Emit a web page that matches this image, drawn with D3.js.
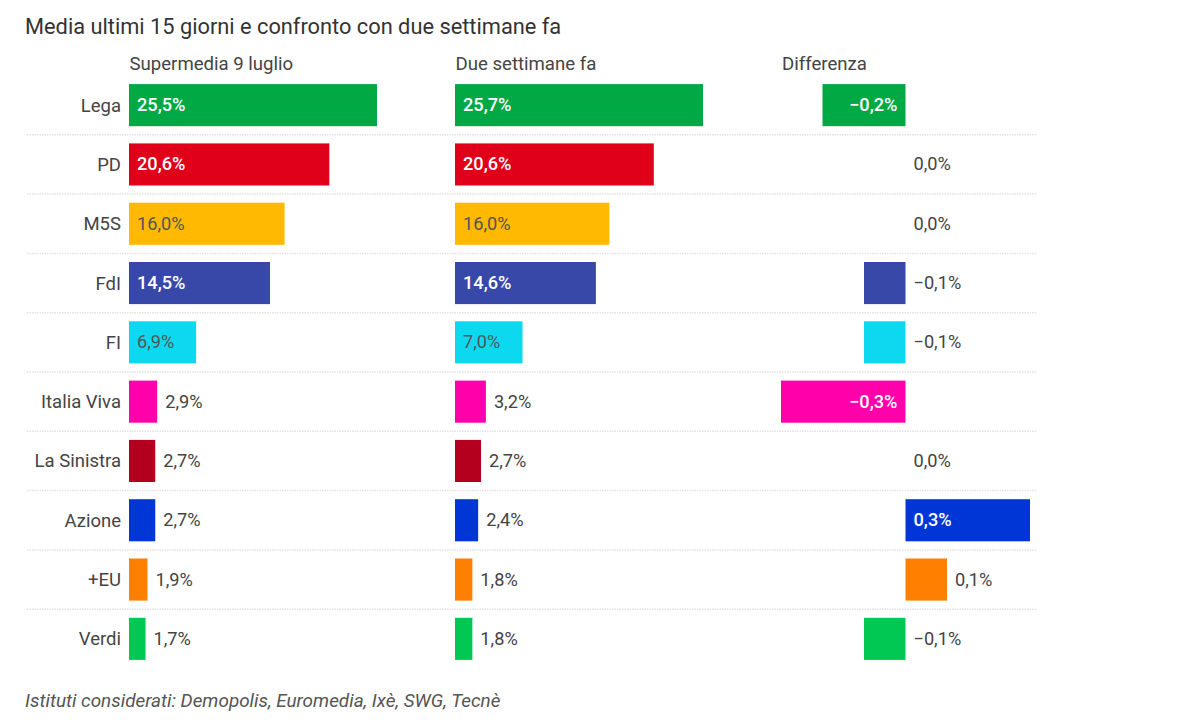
<!DOCTYPE html>
<html>
<head>
<meta charset="utf-8">
<script src="https://d3js.org/d3.v7.min.js"></script>
<style>
body{margin:0;background:#fff;}
text{font-family:Roboto,sans-serif;}
</style>
</head>
<body>
<div id="plot"></div>
<script>
var parties = ['Lega','PD','M5S','FdI','FI','Italia Viva','La Sinistra','Azione','+EU','Verdi'];
var current = [25.5,20.6,16.0,14.5,6.9,2.9,2.7,2.7,1.9,1.7];
var previous = [25.7,20.6,16.0,14.6,7.0,3.2,2.7,2.4,1.8,1.8];
var diffs = [-0.2,0,0,-0.1,-0.1,-0.3,0,0.3,0.1,-0.1];
var colors = ['#00a944','#e0001a','#ffb900','#3748a8','#0cd9f0','#ff00aa','#b4001e','#0036d6','#ff8000','#00c853'];
var darkText = ['M5S','FI'];
var headers = ['Supermedia 9 luglio','Due settimane fa','Differenza'];
var title = 'Media ultimi 15 giorni e confronto con due settimane fa';
var note = 'Istituti considerati: Demopolis, Euromedia, Ixè, SWG, Tecnè';

var labelSize = 18.2;

var svg = d3.select('#plot').append('svg')
	.attr('width',1200)
	.attr('height',720);

var y = d3.scaleBand().domain(parties).range([75.5,668.5]).paddingInner(0.29).paddingOuter(0.145);
var xCur = d3.scaleLinear().domain([0,25.5]).range([129,377]);
var xPrev = d3.scaleLinear().domain([0,25.7]).range([455,703]);
var xDiff = d3.scaleLinear().domain([-0.3,0.3]).range([781,1030]);

var it = d3.formatLocale({decimal:',',thousands:'.',grouping:[3],currency:['','€'],minus:'−'});
var fmt = it.format('.1f');
function label(v){return fmt(v)+'%';}

// dotted separators between rows
parties.slice(1).forEach(function(p){
	var sy = y(p)-y.step()*0.145;
	svg.append('line')
		.attr('x1',27).attr('x2',1036)
		.attr('y1',sy).attr('y2',sy)
		.attr('stroke','#e2e2e2')
		.attr('stroke-width',1.5)
		.attr('stroke-dasharray','1.5 1');
});

svg.append('text').attr('x',25).attr('y',34).attr('font-size',21.8).attr('fill','#333').text(title);
svg.append('text').attr('x',25).attr('y',707).attr('font-size',18.9).attr('font-style','italic').attr('fill','#555').text(note);

svg.selectAll('.party').data(parties).enter().append('text')
	.attr('class','party')
	.attr('x',121)
	.attr('y',function(d){return y(d)+y.bandwidth()/2;})
	.attr('dy','0.35em')
	.attr('text-anchor','end')
	.attr('font-size',18.5)
	.attr('fill','#444')
	.text(function(d){return d;});

function inkColor(p){return darkText.indexOf(p)>=0 ? '#555' : '#fff';}

// first two panels share the same logic
function barColumn(values,x,header){
	svg.append('text').attr('x',x(0)+0.5).attr('y',70).attr('font-size',18.6).attr('fill','#444').text(header);
	values.forEach(function(v,i){
		var p = parties[i];
		svg.append('rect')
			.attr('x',x(0)).attr('y',y(p))
			.attr('width',x(v)-x(0)).attr('height',y.bandwidth())
			.attr('fill',colors[i]);
		var inside = v>=5;
		var ink = inside ? inkColor(p) : '#444';
		svg.append('text')
			.attr('x',inside ? x(0)+8 : x(v)+8)
			.attr('y',y(p)+y.bandwidth()/2)
			.attr('dy','0.33em')
			.attr('font-size',labelSize)
			.attr('font-weight',ink=='#fff' ? 500 : 400)
			.attr('fill',ink)
			.text(label(v));
	});
}
barColumn(current,xCur,headers[0]);
barColumn(previous,xPrev,headers[1]);

svg.append('text').attr('x',782).attr('y',70).attr('font-size',18.6).attr('fill','#444').text(headers[2]);
diffs.forEach(function(v,i){
	var p = parties[i];
	var zero = xDiff(0);
	if (v!=0) {
		svg.append('rect')
			.attr('x',Math.min(xDiff(v),zero)).attr('y',y(p))
			.attr('width',Math.abs(xDiff(v)-zero)).attr('height',y.bandwidth())
			.attr('fill',colors[i]);
	}
	var inside = Math.abs(v)>=0.15;
	var t = svg.append('text')
		.attr('y',y(p)+y.bandwidth()/2)
		.attr('dy','0.33em')
		.attr('font-size',labelSize)
		.attr('font-weight',inside ? 500 : 400)
		.attr('fill',inside ? '#fff' : '#444')
		.text(label(v));
	if (inside && v<0) t.attr('x',zero-8).attr('text-anchor','end');
	else if (v>0 && !inside) t.attr('x',xDiff(v)+8);
	else t.attr('x',zero+8);
});
</script>
</body>
</html>
